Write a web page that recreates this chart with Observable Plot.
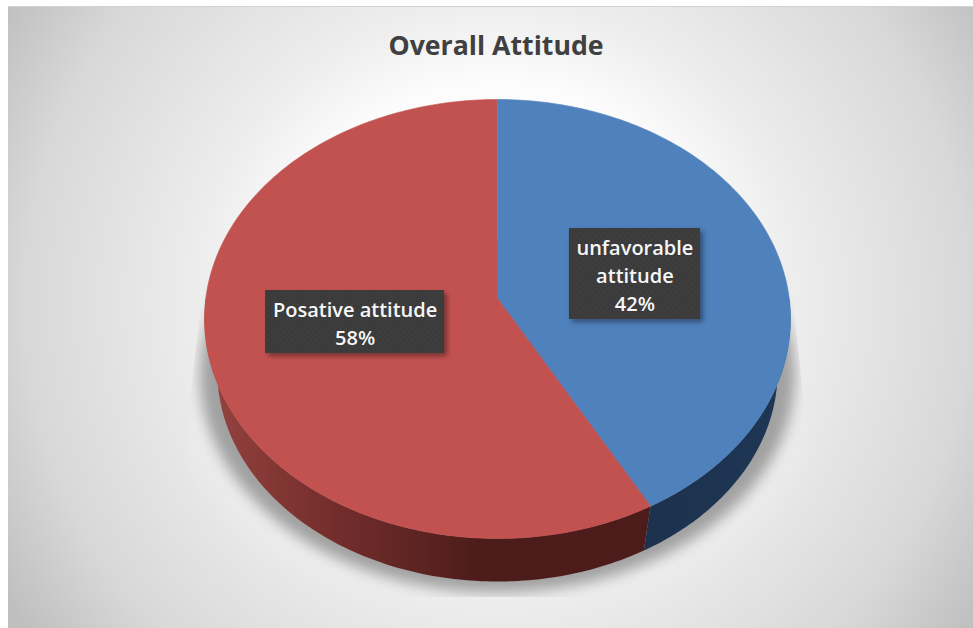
<!DOCTYPE html>
<html>
<head>
<meta charset="utf-8">
<title>Overall Attitude</title>
<script src="https://cdn.jsdelivr.net/npm/d3@7"></script>
<script src="https://cdn.jsdelivr.net/npm/@observablehq/plot@0.6"></script>
<style>
  html, body { margin: 0; padding: 0; background: #fff; }
  #stage { position: relative; width: 973px; height: 628px; overflow: hidden; }
  #panel {
    position: absolute; left: 8px; top: 6px; width: 965px; height: 622px;
    border-top: 1px solid #d2d2d2; box-sizing: border-box;
    background: radial-gradient(circle 575px at 489px 294px,
      #ffffff 0%, #fcfcfc 38%, #ededed 52%, #d8d8d8 82%, #bfbfbf 100%);
  }
  #stage svg { position: absolute; left: 0; top: 0; background: transparent; }
</style>
</head>
<body>
<div id="stage"><div id="panel"></div></div>
<script>
// Chart content
const chartTitle = "Overall Attitude";
const categories = ["unfavorable attitude", "Posative attitude"];
const shares = [42, 58];
const labelLines = ["unfavorable\nattitude", "Posative attitude"];
const topColors = ["#4f81bd", "#c25250"];
const wallFills = ["url(#wall-blue)", "url(#wall-red)"];

// Label boxes, placed in the pie's unit coordinates
const boxCentreX = [0.469, -0.486];
const boxCentreY = [-0.205, 0.014];
const boxWidth = [0.447, 0.611];
const boxHeight = [0.415, 0.287];

// Pie tilt: p is the foreshortening of the projected disc,
// the lower rim is a slightly smaller, lower copy of the upper rim.
const p = -0.0934;
const upperRim = {cy: 0, rx: 1, ry: 1};
const lowerRim = {cy: 0.239, rx: 0.956, ry: 0.957};

const project = (deg, rim, k = 1) => {
  const t = deg * Math.PI / 180, u = k * Math.sin(t), v = -k * Math.cos(t);
  const d = 1 + p * v;
  return {
    x: rim.rx * Math.sqrt(1 - p * p) * u / d,
    y: rim.cy + rim.ry * (1 - p * p) * (v / d + p / (1 - p * p))
  };
};
const arc = (a0, a1, rim) => {
  const n = Math.max(2, Math.ceil(Math.abs(a1 - a0)));
  return d3.range(n + 1).map(i => project(a0 + (a1 - a0) * i / n, rim));
};

// Cumulative slice angles, clockwise from twelve o'clock
const total = d3.sum(shares);
let running = 0;
const spans = shares.map(s => {
  const a0 = running / total * 360;
  running += s;
  return [a0, running / total * 360];
});

const slices = spans.flatMap(([a0, a1], i) =>
  [project(0, upperRim, 0), ...arc(a0, a1, upperRim)].map(pt => ({...pt, category: categories[i]}))
);

// Only the front part of the rim is visible
const visibleSpans = [[90, spans[0][1]], [spans[1][0], 270]];
const walls = visibleSpans.map(([a0, a1]) => [
  ...arc(a0, a1, upperRim),
  ...arc(a1, a0, lowerRim)
]);

const ellipse = (cy, rx, ry) => arc(0, 360, {cy, rx, ry});
const haloShape = ellipse(0.25, 1.09, 1.08);
const shadowShape = ellipse(0.255, 1.015, 0.99);

const defsMark = () => {
  const g = d3.create("svg:g");
  g.html(`<defs>
    <linearGradient id="wall-red" gradientUnits="userSpaceOnUse" x1="204" x2="480" y1="0" y2="0">
      <stop offset="0" stop-color="#964341"/>
      <stop offset="0.4" stop-color="#78302e"/>
      <stop offset="1" stop-color="#4c1c1a"/>
    </linearGradient>
    <linearGradient id="wall-blue" gradientUnits="userSpaceOnUse" x1="640" x2="790" y1="0" y2="0">
      <stop offset="0" stop-color="#1c314d"/>
      <stop offset="1" stop-color="#1e3655"/>
    </linearGradient>
    <pattern id="box-dots" width="6" height="6" patternUnits="userSpaceOnUse">
      <rect width="6" height="6" fill="#3b3b3b"/>
      <circle cx="1.5" cy="1.5" r="0.8" fill="#434343"/>
      <circle cx="4.5" cy="4.5" r="0.8" fill="#434343"/>
    </pattern>
    <clipPath id="shadow-clip">
      <polygon points="208,240 787,240 808,445 808,597 185,597 185,445"/>
    </clipPath>
    <filter id="blur-wide" x="-20%" y="-20%" width="140%" height="140%"><feGaussianBlur stdDeviation="12"/></filter>
    <filter id="blur-soft" x="-20%" y="-20%" width="140%" height="140%"><feGaussianBlur stdDeviation="7"/></filter>
    <filter id="box-shadow" x="-10%" y="-10%" width="125%" height="130%">
      <feDropShadow dx="3" dy="3" stdDeviation="2.5" flood-color="#000" flood-opacity="0.4"/>
    </filter>
  </defs>`);
  return g.node();
};

// Blurs a shape, then trims it to the area the floor shadow occupies
const clippedBlur = filterId => (index, scales, values, dims, context, next) => {
  const g = next(index, scales, values, dims, context);
  const wrap = d3.create("svg:g").attr("clip-path", "url(#shadow-clip)");
  g.setAttribute("filter", `url(#${filterId})`);
  wrap.node().appendChild(g);
  return wrap.node();
};

// Gives each label box its soft drop shadow
const withBoxShadow = (index, scales, values, dims, context, next) => {
  const g = next(index, scales, values, dims, context);
  d3.select(g).selectAll("rect").attr("filter", "url(#box-shadow)");
  return g;
};

const labelRows = categories.map((c, i) => ({
  cx: boxCentreX[i], cy: boxCentreY[i], w: boxWidth[i], h: boxHeight[i],
  text: `${labelLines[i]}\n${shares[i]}%`
}));

const chart = Plot.plot({
  width: 973,
  height: 628,
  margin: 0,
  style: {background: "transparent"},
  x: {domain: [-1, 1], range: [204, 790], axis: null},
  y: {domain: [-1, 1], range: [99, 538], axis: null},
  color: {domain: categories, range: topColors},
  marks: [
    defsMark,
    Plot.line(haloShape, {x: "x", y: "y", fill: "#ececec", stroke: "none", fillOpacity: 0.85, render: clippedBlur("blur-wide")}),
    Plot.line(shadowShape, {x: "x", y: "y", fill: "#a0a0a0", stroke: "none", render: clippedBlur("blur-soft")}),
    ...walls.map((w, i) => Plot.line(w, {x: "x", y: "y", fill: wallFills[i], stroke: "none"})),
    Plot.line(slices, {x: "x", y: "y", fill: "category", stroke: "category", strokeWidth: 0.6}),
    Plot.rect(labelRows, {
      x1: d => d.cx - d.w / 2, x2: d => d.cx + d.w / 2,
      y1: d => d.cy - d.h / 2, y2: d => d.cy + d.h / 2,
      fill: "url(#box-dots)",
      render: withBoxShadow
    }),
    Plot.text(labelRows, {
      x: "cx", y: "cy", text: "text",
      fill: "#f7f7f7",
      fontFamily: "Open Sans",
      fontWeight: 600,
      fontSize: 20,
      lineHeight: 1.4,
      textAnchor: "middle"
    }),
    Plot.text([chartTitle], {
      text: d => d,
      frameAnchor: "top",
      dx: 9,
      dy: 46,
      lineAnchor: "middle",
      fill: "#404040",
      fontFamily: "Open Sans",
      fontWeight: 700,
      fontSize: 26.7
    })
  ]
});
document.getElementById("stage").appendChild(chart);
</script>
</body>
</html>
